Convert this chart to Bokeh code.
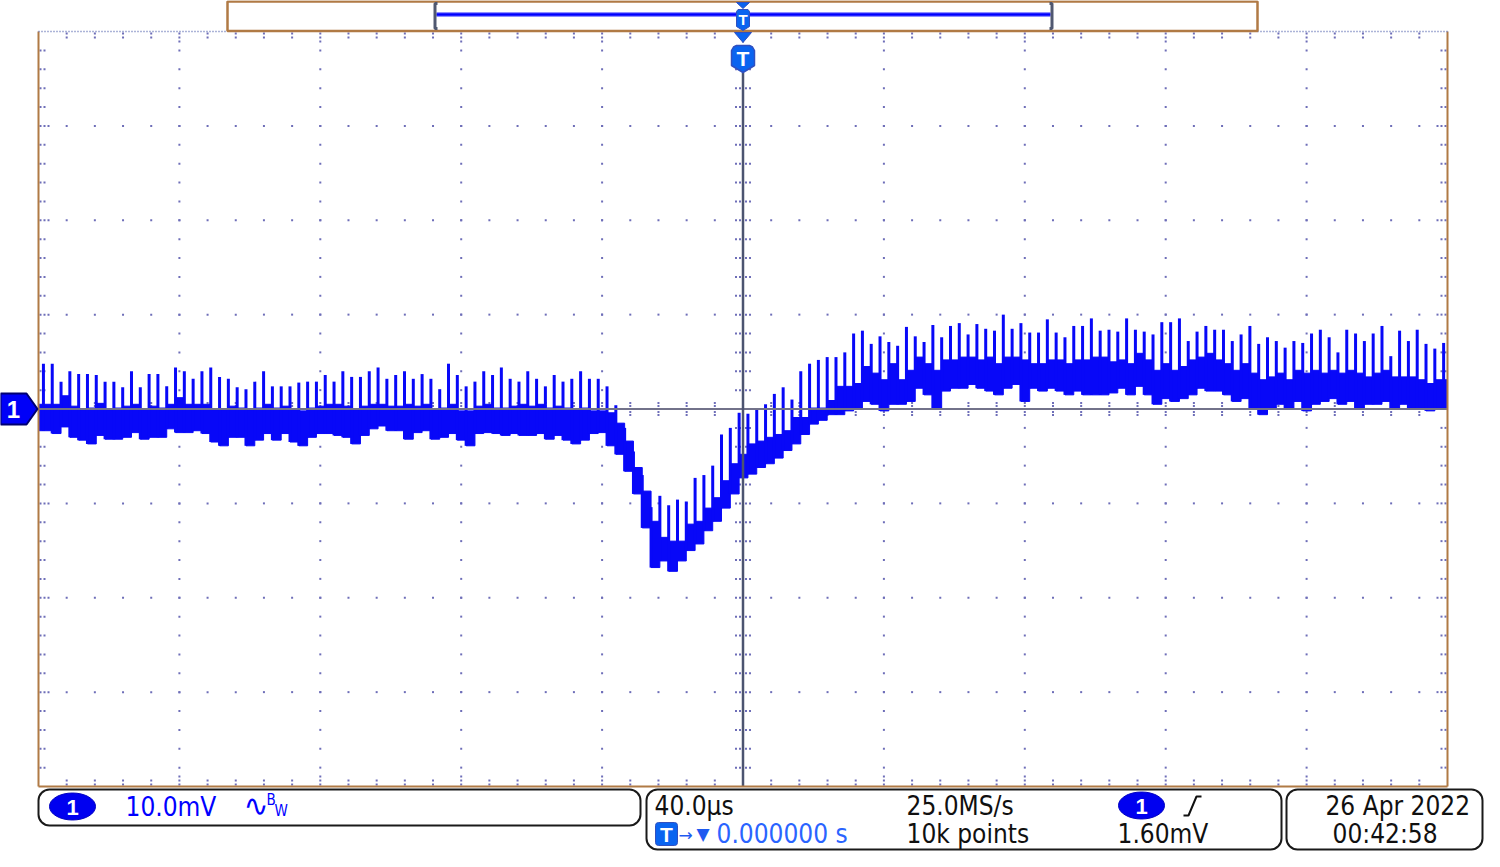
import numpy as np
from bokeh.plotting import figure
from bokeh.models import Range1d
from bokeh.core.properties import value
from bokeh.embed import file_html
from bokeh.resources import INLINE

# ---------------- data (mV), one entry per 2.5 us switching cycle ----------------
spike_top = [4.8, 4.8, 2.9, 4.0, 3.7, 3.7, 3.6, 2.9, 2.9, 2.3,
             4.0, 2.3, 3.7, 3.7, 2.4, 4.4, 4.0, 3.2, 4.0, 4.4,
             3.4, 3.2, 2.3, 2.1, 2.9, 4.0, 2.4, 2.4, 2.4, 2.8,
             2.9, 2.9, 3.6, 2.9, 4.0, 3.4, 3.4, 4.0, 4.4, 3.2,
             3.6, 4.0, 3.2, 3.7, 3.2, 2.1, 4.8, 3.6, 2.4, 2.9,
             4.0, 3.6, 4.4, 3.2, 2.9, 4.0, 3.2, 2.4, 3.6, 2.9,
             3.2, 4.0, 3.2, 3.2, 2.4, 0.4, -2.0, -4.5, -7.0, -10.4,
             -9.2, -10.2, -9.6, -9.8, -7.3, -7.0, -6.0, -2.7, -2.0, -0.4,
             -0.5, 0.0, 0.5, 1.6, 2.3, 1.0, 4.0, 4.8, 5.2, 5.5,
             5.5, 6.0, 8.0, 8.3, 6.9, 7.7, 7.1, 6.7, 8.7, 7.7,
             7.1, 8.9, 7.6, 8.8, 9.1, 7.9, 9.0, 8.5, 8.3, 10.0,
             8.5, 9.1, 8.1, 8.1, 9.5, 8.1, 7.6, 8.8, 8.8, 9.6,
             8.3, 8.4, 8.2, 9.6, 8.4, 8.2, 7.9, 9.2, 9.2, 9.6,
             7.2, 8.2, 8.8, 8.4, 8.4, 7.2, 7.9, 8.8, 6.9, 7.6,
             7.2, 6.5, 7.2, 7.0, 8.0, 8.4, 7.6, 6.0, 8.4, 8.0,
             7.2, 8.0, 8.8, 5.6, 8.3, 7.2, 8.4, 6.9, 6.4, 7.0]

band_hi = [0.5, 0.5, 1.4, 0.3, -0.1, 0.1, 0.6, -0.1, 0.1, 0.3,
           0.5, -0.1, 0.3, 0.1, 0.5, 1.2, 0.5, 0.5, 0.5, -0.1,
           -0.1, 0.3, 0.1, -0.1, 0.1, 0.5, 0.1, 0.3, -0.1, -0.2,
           0.1, 0.3, 0.5, 0.5, 0.3, -0.1, 0.3, 0.5, 0.5, 0.3,
           0.3, 0.5, 0.3, 0.5, -0.1, 0.1, 0.5, -0.2, -0.2, 0.3,
           0.5, 0.1, 0.1, 0.3, 0.5, 0.3, 0.5, 0.1, 0.3, 0.1,
           -0.1, 0.1, -0.2, -0.2, -0.4, -1.5, -3.4, -6.2, -8.7, -11.9,
           -13.6, -14.0, -14.0, -12.2, -11.9, -10.5, -9.4, -7.6, -5.8, -4.8,
           -3.7, -3.4, -3.0, -2.7, -2.3, -0.9, -0.9, 0.1, 0.1, 0.9,
           2.4, 2.4, 2.7, 4.5, 3.8, 3.1, 4.8, 3.1, 4.1, 5.5,
           4.8, 4.1, 5.2, 5.2, 5.5, 5.5, 5.2, 5.5, 4.8, 5.5,
           5.5, 5.2, 4.8, 4.8, 5.2, 5.2, 4.8, 5.2, 5.2, 5.5,
           5.5, 5.0, 5.2, 4.8, 5.9, 5.2, 4.1, 4.8, 4.1, 4.5,
           5.2, 5.5, 5.9, 5.2, 4.8, 4.1, 4.8, 3.8, 3.1, 3.4,
           3.8, 3.1, 4.1, 3.8, 4.1, 3.8, 4.1, 3.8, 4.1, 3.8,
           3.4, 3.8, 4.1, 3.4, 3.4, 3.4, 3.1, 2.7, 3.1, 3.1]

band_lo = [-2.3, -2.6, -1.9, -3.0, -3.3, -3.7, -2.8, -3.2, -3.2, -3.0,
           -2.5, -3.2, -3.0, -3.0, -2.1, -2.5, -2.5, -2.3, -2.6, -3.5,
           -3.9, -3.0, -3.0, -3.9, -3.3, -2.6, -3.3, -2.6, -3.5, -3.9,
           -3.0, -2.6, -2.6, -2.8, -3.0, -3.7, -2.8, -2.1, -1.8, -2.3,
           -2.3, -3.2, -2.5, -2.3, -3.2, -3.0, -2.6, -3.3, -3.9, -2.6,
           -2.5, -2.6, -2.8, -2.6, -2.8, -2.8, -2.6, -3.2, -2.8, -3.3,
           -3.7, -3.3, -2.6, -2.5, -3.9, -4.8, -6.6, -9.0, -12.6, -16.8,
           -16.1, -17.2, -16.1, -15.0, -14.3, -12.9, -11.9, -10.5, -9.0, -7.3,
           -6.9, -6.2, -5.8, -5.2, -4.4, -3.7, -2.7, -1.6, -1.2, -0.6,
           -0.6, -0.2, 0.1, 0.8, 0.5, -0.2, 0.5, 0.5, 0.8, 2.2,
           1.5, 0.1, 1.9, 2.2, 2.2, 2.6, 2.2, 1.9, 1.5, 2.2,
           2.6, 0.8, 2.2, 1.9, 2.2, 1.9, 1.5, 1.9, 1.5, 1.5,
           1.5, 1.7, 2.2, 1.5, 2.4, 1.5, 0.5, 1.1, 0.8, 1.1,
           1.5, 2.2, 1.9, 1.9, 1.5, 0.8, 1.1, 0.1, -0.6, 0.1,
           0.5, 0.1, 0.8, -0.2, 0.5, 0.8, 1.1, 0.5, 0.8, 0.1,
           0.5, 0.5, 0.8, 0.1, 0.5, 0.1, 0.1, -0.2, 0.1, 0.1]

T_FIRST_US = -198.6      # first switching spike on screen
PERIOD_US = 2.5          # switching period

# scope settings / readouts
TIME_DIV_US = 40.0
VOLT_DIV_MV = 10.0
N_HDIV = 10
N_VDIV = 8
ch_scale = "10.0mV"
time_scale = "40.0µs"
sample_rate = "25.0MS/s"
record_len = "10k points"
trig_level = "1.60mV"
trig_pos = "0.000000 s"
date_str = "26 Apr  2022"
time_str = "00:42:58"

# ---------------- screen geometry helpers (screen pixels -> data) ----------------
W, H = 1484, 851
GL, GR, GT, GB = 38.0, 1447.0, 31.0, 786.0
XC, YC = (GL + GR) / 2, (GT + GB) / 2
SX = (GR - GL) / (N_HDIV * TIME_DIV_US)   # px per us
SY = (GB - GT) / (N_VDIV * VOLT_DIV_MV)   # px per mV


def X(px):
    return (px - XC) / SX


def Y(py):
    return (YC - py) / SY


TMAX = N_HDIV * TIME_DIV_US / 2
VMAX = N_VDIV * VOLT_DIV_MV / 2

p = figure(width=W, height=H, x_range=Range1d(X(0), X(W)), y_range=Range1d(Y(H), Y(0)),
           x_axis_type=None, y_axis_type=None, toolbar_location=None, output_backend="svg",
           min_border=0, title=None)
p.outline_line_color = None
p.background_fill_color = "white"
p.border_fill_color = "white"

ORANGE = "#B07A45"
DOT = "#6E6EB8"
BLUE = "#0808F8"
TBLUE = "#0A64F0"
FONT = value("DejaVu Sans Condensed, Liberation Sans, sans-serif")
FS = "26px"

# ---------------- graticule ----------------
minor_t = np.arange(-TMAX, TMAX + 0.01, TIME_DIV_US / 5)
minor_v = np.arange(-VMAX, VMAX + 0.01, VOLT_DIV_MV / 5)
major_t = np.arange(-TMAX + TIME_DIV_US, TMAX, TIME_DIV_US)
major_v = np.arange(-VMAX + VOLT_DIV_MV, VMAX, VOLT_DIV_MV)

dx, dy = [], []
for tt in major_t:
    if abs(tt) < 1e-9:
        continue
    for vv in minor_v[1:-1]:
        dx.append(tt); dy.append(vv)
for vv in major_v:
    if abs(vv) < 1e-9:
        continue
    for tt in minor_t[1:-1]:
        dx.append(tt); dy.append(vv)
# edge ticks
for tt in minor_t[1:-1]:
    is_major = np.any(np.isclose(major_t, tt))
    offs = [2, 6, 10] if is_major else [2, 6]
    for o in offs:
        dx += [tt, tt]; dy += [Y(GT + o), Y(GB - o)]
for vv in minor_v[1:-1]:
    is_major = np.any(np.isclose(major_v, vv))
    offs = [2, 6, 10] if is_major else [2, 6]
    for o in offs:
        dx += [X(GL + o), X(GR - o)]; dy += [vv, vv]
# centre cross ticks
for vv in minor_v[1:-1]:
    for o in (-7, -3, 3, 7):
        dx.append(X(XC + o)); dy.append(vv)
for tt in minor_t[1:-1]:
    for o in (-6, -3, 3, 6):
        dx.append(tt); dy.append(Y(YC + o))
p.scatter(dx, dy, marker="square", size=2, fill_color=DOT, line_color=None)

# ---------------- waveform ----------------
t = T_FIRST_US + PERIOD_US * np.arange(len(spike_top))
left = np.clip(t, -TMAX, TMAX)
left[0] = -TMAX
right = np.clip(t + PERIOD_US, -TMAX, TMAX)
p.quad(left=left, right=right, bottom=band_lo, top=band_hi, fill_color=BLUE, line_color=BLUE, line_width=1)
p.segment(x0=t, y0=band_lo, x1=t, y1=spike_top, line_color=BLUE, line_width=3)

# ground reference line and trigger position line
p.segment(x0=[-TMAX], y0=[0], x1=[TMAX], y1=[0], line_color="#72728A", line_width=2)
p.segment(x0=[0], y0=[Y(72)], x1=[0], y1=[-VMAX], line_color="#4C5470", line_width=2.5)

# ---------------- frame ----------------
p.segment(x0=[-TMAX, TMAX, -TMAX], y0=[-VMAX, -VMAX, -VMAX], x1=[-TMAX, TMAX, TMAX], y1=[VMAX, VMAX, -VMAX],
          line_color=ORANGE, line_width=2)
p.segment(x0=[-TMAX, X(1257)], y0=[VMAX, VMAX], x1=[X(227), TMAX], y1=[VMAX, VMAX],
          line_color="#5868B0", line_width=1.5, line_dash="1 2")

# record bar
p.quad(left=[X(227)], right=[X(1257)], top=[Y(1)], bottom=[Y(30.5)], fill_color="white", line_color=ORANGE, line_width=2.5)
p.segment(x0=[X(436)], y0=[Y(14)], x1=[X(1050)], y1=[Y(14)], line_color="#9090FF", line_width=5)
p.segment(x0=[X(436)], y0=[Y(14)], x1=[X(1050)], y1=[Y(14)], line_color="#0000FF", line_width=2.5)
p.multi_line(xs=[[X(437), X(434.5), X(434.5), X(437)], [X(1049), X(1051.5), X(1051.5), X(1049)]],
             ys=[[Y(3), Y(3), Y(28), Y(28)], [Y(3), Y(3), Y(28), Y(28)]], line_color="#505870", line_width=3)

# trigger markers
p.patch(x=[X(736), X(749), X(742.5)], y=[Y(2), Y(2), Y(8)], fill_color=TBLUE, line_color="#3050C0", line_width=1)
p.patch(x=[X(736), X(737.5), X(747.5), X(749), X(749), X(742.5), X(736)],
        y=[Y(11), Y(9), Y(9), Y(11), Y(26), Y(30), Y(26)], fill_color=TBLUE, line_color="#3050C0", line_width=1)
p.text(x=[0], y=[Y(19)], text=["T"], text_color="white", text_font=value("Liberation Sans"), text_font_style="bold",
       text_font_size="15px", text_align="center", text_baseline="middle")
p.patch(x=[X(734), X(751), X(742.5)], y=[Y(32), Y(32), Y(42)], fill_color=TBLUE, line_color="#3050C0", line_width=1)
p.patch(x=[X(731), X(733), X(736), X(749), X(752), X(754), X(754), X(742.5), X(731)],
        y=[Y(50), Y(46.5), Y(45), Y(45), Y(46.5), Y(50), Y(65), Y(72), Y(65)],
        fill_color=TBLUE, line_color="#3050C0", line_width=1.5)
p.text(x=[0], y=[Y(58)], text=["T"], text_color="white", text_font=value("Liberation Sans"), text_font_style="bold",
       text_font_size="21px", text_align="center", text_baseline="middle")

# channel 1 ground marker
p.patch(x=[X(0), X(26), X(37), X(26), X(0)], y=[Y(393), Y(393), Y(408.5), Y(424), Y(424)],
        fill_color="#0000F8", line_color="#000070", line_width=2)
p.text(x=[X(13)], y=[Y(409)], text=["1"], text_color="white", text_font=value("Liberation Sans"), text_font_style="bold",
       text_font_size="24px", text_align="center", text_baseline="middle")

# ---------------- readout panels ----------------
R1, R2 = 805, 833          # text rows
p.quad(left=[X(38), X(646), X(1286)], right=[X(640), X(1281), X(1482)], top=[Y(789), Y(789), Y(789)],
       bottom=[Y(825), Y(849), Y(849)], fill_color=None, line_color="#1A1A1A", line_width=2, border_radius=11)

# channel badges
p.ellipse(x=[X(72), X(1141)], y=[Y(R1 + 1), Y(R1)], width=[46 / SX, 46 / SX], height=[27 / SY, 27 / SY],
          fill_color="#0000F0", line_color="#0000C0", line_width=1)
p.text(x=[X(72), X(1141)], y=[Y(R1 + 2), Y(R1 + 1)], text=["1", "1"], text_color="white",
       text_font=value("Liberation Sans"), text_font_style="bold", text_font_size="22px", text_align="center",
       text_baseline="middle")

p.text(x=[X(125)], y=[Y(R1 + 1)], text=[ch_scale], text_color="#0000FF", text_font=FONT, text_font_size=FS,
       text_align="left", text_baseline="middle")
p.text(x=[X(243)], y=[Y(R1)], text=["∿"], text_color="#0000FF", text_font=value("DejaVu Sans"), text_font_size="30px",
       text_align="left", text_baseline="middle")
p.text(x=[X(266), X(274)], y=[Y(R1 - 6), Y(R1 + 5)], text=["B", "W"], text_color="#0000FF", text_font=FONT,
       text_font_size="15px", text_align="left", text_baseline="middle")

p.text(x=[X(654), X(906), X(906), X(1117)], y=[Y(R1), Y(R1), Y(R2), Y(R2)],
       text=[time_scale, sample_rate, record_len, trig_level], text_color="#101010", text_font=FONT,
       text_font_size=FS, text_align="left", text_baseline="middle")
p.text(x=[X(1477)], y=[Y(R1)], text=[date_str], text_color="#101010", text_font=FONT, text_font_size=FS,
       text_align="right", text_baseline="middle")
p.text(x=[X(1332)], y=[Y(R2)], text=[time_str], text_color="#101010", text_font=FONT, text_font_size=FS,
       text_align="left", text_baseline="middle")

# rising-edge symbol
p.line(x=[X(1183), X(1188), X(1196), X(1201)], y=[Y(R1 + 10), Y(R1 + 10), Y(R1 - 9), Y(R1 - 9)],
       line_color="#101010", line_width=2)

# trigger position row
p.quad(left=[X(655)], right=[X(677)], top=[Y(R2 - 11)], bottom=[Y(R2 + 12)], fill_color=TBLUE, line_color="#3050C0",
       line_width=1, border_radius=3)
p.text(x=[X(666)], y=[Y(R2 + 1)], text=["T"], text_color="white", text_font=value("Liberation Sans"),
       text_font_style="bold", text_font_size="21px", text_align="center", text_baseline="middle")
p.text(x=[X(678), X(696)], y=[Y(R2 + 1), Y(R2)], text=["→", "▼"], text_color="#1E5AF0",
       text_font=value("DejaVu Sans"), text_font_size="17px", text_align="left", text_baseline="middle")
p.text(x=[X(716)], y=[Y(R2)], text=[trig_pos], text_color="#2A64FF", text_font=FONT, text_font_size=FS,
       text_align="left", text_baseline="middle")

open("out.html", "w").write(file_html(p, INLINE))
